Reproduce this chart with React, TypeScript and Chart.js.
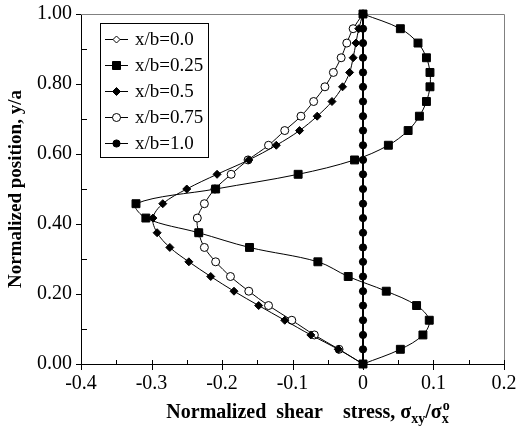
import React, { useEffect, useRef } from "react";
import { Chart, registerables } from "chart.js";

Chart.register(...registerables);

// Normalized position y/a (shared by all series)
const yPositions = [
  1.0, 0.958, 0.917, 0.875, 0.833, 0.792, 0.75, 0.708, 0.667, 0.625, 0.583, 0.542, 0.5,
  0.458, 0.417, 0.375, 0.333, 0.292, 0.25, 0.208, 0.167, 0.125, 0.083, 0.042, 0.0,
];

// Normalized shear stress for each x/b
const stressXb00 = [0, 0, 0, 0, 0, 0, 0, 0, 0, 0, 0, 0, 0, 0, 0, 0, 0, 0, 0, 0, 0, 0, 0, 0, 0];
const stressXb025 = [
  0, 0.053, 0.078, 0.09, 0.095, 0.095, 0.09, 0.08, 0.064, 0.036, -0.012, -0.092, -0.209,
  -0.322, -0.308, -0.233, -0.161, -0.064, -0.021, 0.033, 0.076, 0.094, 0.085, 0.053, 0,
];
const stressXb05 = [
  0, -0.006, -0.01, -0.014, -0.019, -0.029, -0.044, -0.065, -0.09, -0.123, -0.162, -0.207,
  -0.25, -0.284, -0.298, -0.292, -0.274, -0.247, -0.216, -0.183, -0.148, -0.111, -0.074,
  -0.035, 0,
];
const stressXb075 = [
  0, -0.014, -0.023, -0.031, -0.042, -0.054, -0.07, -0.088, -0.111, -0.134, -0.163, -0.187,
  -0.21, -0.225, -0.235, -0.233, -0.225, -0.209, -0.188, -0.162, -0.134, -0.101, -0.069,
  -0.034, 0,
];
const stressXb10 = [0, 0, 0, 0, 0, 0, 0, 0, 0, 0, 0, 0, 0, 0, 0, 0, 0, 0, 0, 0, 0, 0, 0, 0, 0];

const seriesLabels = ["x/b=0.0", "x/b=0.25", "x/b=0.5", "x/b=0.75", "x/b=1.0"];

// Axis tick marks
const xMajorTicks = [-0.4, -0.3, -0.2, -0.1, 0, 0.1, 0.2];
const xMinorTicks = [-0.35, -0.25, -0.15, -0.05, 0.05, 0.15];
const yMajorTicks = [0, 0.2, 0.4, 0.6, 0.8, 1.0];
const yMinorTicks = [0.1, 0.3, 0.5, 0.7, 0.9];

const FONT = "'Liberation Serif', 'Times New Roman', serif";

type Marker = { style: string; radius: number; fill: string };
const markers: Marker[] = [
  { style: "diamond", radius: 3.5, fill: "#ffffff" },
  { style: "square", radius: 4, fill: "#000000" },
  { style: "diamond", radius: 4, fill: "#000000" },
  { style: "circle", radius: 4, fill: "#ffffff" },
  { style: "circle", radius: 3.6, fill: "#000000" },
];

function drawMarker(ctx: CanvasRenderingContext2D, m: Marker, x: number, y: number) {
  ctx.beginPath();
  if (m.style === "circle") {
    ctx.arc(x, y, m.radius, 0, Math.PI * 2);
  } else if (m.style === "square") {
    ctx.rect(x - m.radius, y - m.radius, m.radius * 2, m.radius * 2);
  } else {
    ctx.moveTo(x, y - m.radius);
    ctx.lineTo(x + m.radius, y);
    ctx.lineTo(x, y + m.radius);
    ctx.lineTo(x - m.radius, y);
    ctx.closePath();
  }
  ctx.fillStyle = m.fill;
  ctx.fill();
  ctx.strokeStyle = "#000";
  ctx.lineWidth = 1;
  ctx.stroke();
}

const decorPlugin = {
  id: "decor",
  beforeDatasetsDraw(chart: any) {
    const { ctx, chartArea: a, scales } = chart;
    const xs = scales.x;
    const ys = scales.y;
    ctx.save();
    ctx.strokeStyle = "#808080";
    ctx.lineWidth = 1;
    ctx.beginPath();
    ctx.moveTo(a.left, Math.round(a.top) + 0.5);
    ctx.lineTo(Math.round(a.right) + 0.5, Math.round(a.top) + 0.5);
    ctx.lineTo(Math.round(a.right) + 0.5, a.bottom);
    ctx.stroke();
    ctx.strokeStyle = "#000";
    ctx.beginPath();
    const yb = Math.round(a.bottom);
    xMajorTicks.forEach((v) => {
      const px = Math.round(xs.getPixelForValue(v)) + 0.5;
      ctx.moveTo(px, yb - 4);
      ctx.lineTo(px, yb + 6);
    });
    xMinorTicks.forEach((v) => {
      const px = Math.round(xs.getPixelForValue(v)) + 0.5;
      ctx.moveTo(px, yb - 4);
      ctx.lineTo(px, yb);
    });
    const xl = Math.round(a.left);
    yMajorTicks.forEach((v) => {
      const py = Math.round(ys.getPixelForValue(v)) + 0.5;
      ctx.moveTo(xl - 5, py);
      ctx.lineTo(xl, py);
    });
    yMinorTicks.forEach((v) => {
      const py = Math.round(ys.getPixelForValue(v)) + 0.5;
      ctx.moveTo(xl, py);
      ctx.lineTo(xl + 6, py);
    });
    ctx.stroke();
    ctx.restore();
  },
  afterDraw(chart: any) {
    const { ctx, chartArea: a } = chart;
    ctx.save();
    // Legend
    const lx = Math.round(a.left) + 19;
    const ly = Math.round(a.top) + 9;
    const lw = 108;
    const lh = 134;
    ctx.fillStyle = "#fff";
    ctx.fillRect(lx, ly, lw, lh);
    ctx.strokeStyle = "#000";
    ctx.lineWidth = 1;
    ctx.strokeRect(lx + 0.5, ly + 0.5, lw, lh);
    ctx.font = `19px ${FONT}`;
    ctx.textBaseline = "middle";
    ctx.textAlign = "left";
    seriesLabels.forEach((label, i) => {
      const cy = ly + 16 + i * 26;
      ctx.strokeStyle = "#000";
      ctx.lineWidth = 1;
      ctx.beginPath();
      ctx.moveTo(lx + 5, cy + 0.5);
      ctx.lineTo(lx + 28, cy + 0.5);
      ctx.stroke();
      drawMarker(ctx, markers[i], lx + 16.5, cy + 0.5);
      ctx.fillStyle = "#000";
      ctx.fillText(label, lx + 35, cy + 1);
    });

    // X axis title with subscripts
    const big = `bold 20px ${FONT}`;
    const small = `bold 14px ${FONT}`;
    const parts: { t: string; f: string; dy: number }[] = [
      { t: "Normalized  shear    stress, σ", f: big, dy: 0 },
      { t: "xy", f: small, dy: 5 },
      { t: "/σ", f: big, dy: 0 },
      { t: "x", f: small, dy: 5 },
    ];
    let total = 0;
    parts.forEach((p) => {
      ctx.font = p.f;
      total += ctx.measureText(p.t).width;
    });
    let x = (a.left + a.right) / 2 + 15 - total / 2;
    const baseY = 418;
    ctx.textBaseline = "alphabetic";
    ctx.fillStyle = "#000";
    let lastX = 0;
    parts.forEach((p) => {
      ctx.font = p.f;
      ctx.fillText(p.t, x, baseY + p.dy);
      lastX = x;
      x += ctx.measureText(p.t).width;
    });
    ctx.font = small;
    ctx.fillText("o", lastX + 1, baseY - 8);
    ctx.restore();
  },
};

export default function App() {
  const canvasRef = useRef<HTMLCanvasElement | null>(null);

  useEffect(() => {
    if (!canvasRef.current) return;
    const series = [stressXb00, stressXb025, stressXb05, stressXb075, stressXb10];
    const orders = [5, 1, 2, 3, 4];
    const pointStyles = ["rectRot", "rect", "rectRot", "circle", "circle"];
    const radii = [3.5, 5.6, 4, 4, 3.6];
    const datasets = series.map((vals, i) => ({
      label: seriesLabels[i],
      data: vals.map((v, k) => ({ x: v, y: yPositions[k] })),
      showLine: true,
      borderColor: "#000",
      borderWidth: i === 4 ? 2 : 1,
      tension: 0.35,
      pointStyle: pointStyles[i],
      pointRadius: radii[i],
      pointBackgroundColor: markers[i].fill,
      pointBorderColor: "#000",
      pointBorderWidth: 1,
      order: orders[i],
      clip: false as any,
    }));

    const chart = new Chart(canvasRef.current, {
      type: "scatter",
      data: { datasets },
      options: {
        animation: false,
        responsive: false,
        events: [],
        layout: { padding: 0 },
        plugins: { legend: { display: false }, tooltip: { enabled: false } },
        scales: {
          x: {
            type: "linear",
            min: -0.4,
            max: 0.2,
            grid: { display: false, drawTicks: false },
            border: { display: true, color: "#000", width: 1 },
            ticks: {
              stepSize: 0.1,
              padding: 8,
              color: "#000",
              font: { family: FONT, size: 20 },
              callback: (v: any) => {
                const n = Math.round(Number(v) * 10) / 10;
                return n === 0 ? "0" : n.toFixed(1);
              },
            },
            afterFit: (scale: any) => {
              scale.height = 79;
              scale.paddingLeft = 0;
              scale.paddingRight = 12;
            },
          },
          y: {
            type: "linear",
            min: 0,
            max: 1,
            grid: { display: false, drawTicks: false },
            border: { display: true, color: "#000", width: 1 },
            ticks: {
              stepSize: 0.2,
              padding: 9,
              color: "#000",
              font: { family: FONT, size: 20 },
              callback: (v: any) => Number(v).toFixed(2),
            },
            title: {
              display: true,
              text: "Normalized position, y/a",
              color: "#000",
              font: { family: FONT, size: 19, weight: "bold" },
              padding: { top: 5, bottom: 0 },
            },
            afterFit: (scale: any) => {
              scale.width = 81;
              scale.paddingTop = 14;
              scale.paddingBottom = 0;
            },
          },
        },
      },
      plugins: [decorPlugin],
    });
    return () => chart.destroy();
  }, []);

  return (
    <div style={{ position: "absolute", left: 0, top: 0, width: 516, height: 443, background: "#fff" }}>
      <canvas ref={canvasRef} width={516} height={443} style={{ display: "block" }} />
    </div>
  );
}
